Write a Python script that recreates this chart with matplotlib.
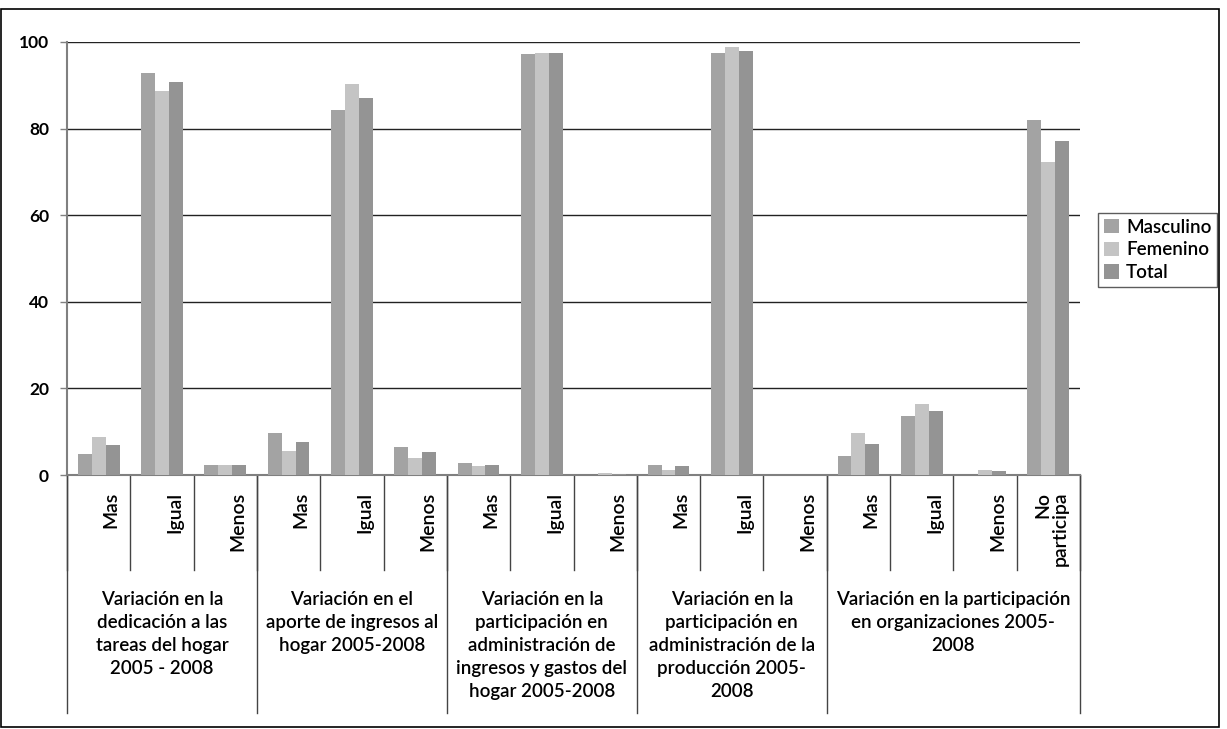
import matplotlib.pyplot as plt
import matplotlib.patches as mpatches
import numpy as np

# ==============================
# Datos
# ==============================
subcats = ["Mas", "Igual", "Menos",
           "Mas", "Igual", "Menos",
           "Mas", "Igual", "Menos",
           "Mas", "Igual", "Menos",
           "Mas", "Igual", "Menos", "No\nparticipa"]

grupos = ["Variación en la\ndedicación a las\ntareas del hogar\n2005 - 2008",
          "Variación en el\naporte de ingresos al\nhogar 2005-2008",
          "Variación en la\nparticipación en\nadministración de\ningresos y gastos del\nhogar 2005-2008",
          "Variación en la\nparticipación en\nadministración de la\nproducción 2005-\n2008",
          "Variación en la participación\nen organizaciones 2005-\n2008"]
tam_grupos = [3, 3, 3, 3, 4]

masculino = [4.9, 92.9, 2.3, 9.7, 84.3, 6.5, 2.8, 97.3, 0.0, 2.3, 97.5, 0.0, 4.4, 13.6, 0.0, 82.0]
femenino  = [8.8, 88.7, 2.3, 5.5, 90.3, 3.9, 2.1, 97.5, 0.4, 1.2, 98.9, 0.0, 9.7, 16.4, 1.2, 72.3]
total     = [6.9, 90.8, 2.3, 7.6, 87.1, 5.3, 2.3, 97.5, 0.3, 2.0, 98.0, 0.0, 7.2, 14.8, 0.9, 77.2]

series = ["Masculino", "Femenino", "Total"]
colores = ["#a3a3a3", "#c4c4c4", "#949494"]

plt.rcParams["font.family"] = ["Lato", "DejaVu Sans"]

# ==============================
# Figura
# ==============================
fig = plt.figure(figsize=(12.27, 7.29), dpi=100)
ax = fig.add_axes([67/1227, 1-475/729, (1080-67)/1227, (475-42)/729])

x = np.arange(len(subcats))
ancho = 0.22
for i, (vals, nombre, color) in enumerate(zip([masculino, femenino, total], series, colores)):
    ax.bar(x + (i-1)*ancho, vals, ancho, color=color, label=nombre, zorder=3)

ax.set_xlim(-0.5, len(subcats)-0.5)
ax.set_ylim(0, 100)
ax.set_yticks(range(0, 101, 20))
ax.set_yticklabels([str(v) for v in range(0, 101, 20)], fontsize=12.5, fontweight="bold")
ax.tick_params(axis="y", length=5, width=1, color="#808080", pad=8)
ax.set_xticks([])
ax.yaxis.grid(True, color="#222222", linewidth=1, zorder=0)
for s in ["top", "right"]:
    ax.spines[s].set_visible(False)
ax.spines["left"].set_color("#808080")
ax.spines["left"].set_linewidth(1.5)
ax.spines["bottom"].set_color("#808080")
ax.spines["bottom"].set_linewidth(1.5)

# ==============================
# Eje x jerárquico
# ==============================
tr = ax.get_xaxis_transform()
alto = 475 - 42
y_sub = -(570-475)/alto
y_grp = -(713-475)/alto

for i, lab in enumerate(subcats):
    dx = 0.05 if "\n" in lab else 0.2
    ax.text(i + dx, -(492-475)/alto, lab, transform=tr, rotation=90, ha="center", va="top",
            multialignment="right", fontsize=14, fontweight="semibold", linespacing=1.0)
for i in range(len(subcats)+1):
    ax.plot([i-0.5, i-0.5], [0, y_sub], transform=tr, color="#444444", lw=1, clip_on=False)

inicio = 0
ax.plot([-0.5, -0.5], [0, y_grp], transform=tr, color="#444444", lw=1, clip_on=False)
for g, n in zip(grupos, tam_grupos):
    fin = inicio + n
    ax.plot([fin-0.5, fin-0.5], [0, y_grp], transform=tr, color="#444444", lw=1, clip_on=False)
    ax.text((inicio+fin-1)/2, -(591-475)/alto, g, transform=tr, ha="center", va="top",
            fontsize=13.5, fontweight="semibold", linespacing=1.42)
    inicio = fin

# ==============================
# Leyenda
# ==============================
leg = ax.legend(loc="upper left", bbox_to_anchor=(1098/1227, 1-213/729),
                bbox_transform=fig.transFigure, borderaxespad=0,
                prop={"size": 13.5, "weight": "semibold"},
                handlelength=0.8, handleheight=0.8, handletextpad=0.4,
                labelspacing=0.3, borderpad=0.3, fancybox=False, frameon=True)
leg.get_frame().set_edgecolor("#333333")
leg.get_frame().set_linewidth(1)

# Marco de la figura
fig.patches.append(mpatches.Rectangle((1/1227, 2/729), 1218/1227, 718/729, transform=fig.transFigure,
                                      fill=False, edgecolor="black", linewidth=1.2))

fig.savefig("out.png", dpi=100)
